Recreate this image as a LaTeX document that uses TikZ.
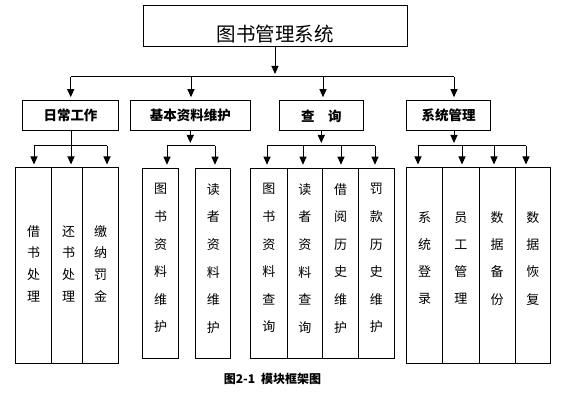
\documentclass[tikz,border=0pt]{standalone}
\usepackage{fontspec}
\setmainfont{Noto Sans CJK SC}
\usetikzlibrary{arrows.meta}

\begin{document}
\begin{tikzpicture}[x=1pt, y=-1pt,
  box/.style={draw, line width=1pt, inner sep=0pt, minimum height=30.3pt, font=\bfseries\fontsize{13.5pt}{16pt}\selectfont},
  cell/.style={draw, line width=1pt, inner sep=0pt},
  celltext/.style={align=center, inner sep=0pt},
  arrow/.style={-{Triangle[length=8pt,width=7pt]}, line width=1pt, shorten >=3pt},
  link/.style={line width=1pt}
]
  \useasboundingbox (0,0) rectangle (574,403);

  % Title
  \node[draw, line width=1pt, inner sep=0pt, minimum width=264pt, minimum height=41pt, text height=30pt, text depth=0pt, font=\fontsize{19.5pt}{20pt}\selectfont] (title) at (275,26.5) {图书管理系统};

  % Modules
  \node[box, minimum width=95.6pt] (daily) at (70.5,115.85) {日常工作};
  \node[box, minimum width=120pt] (basic) at (190.3,115.85) {基本资料维护};
  \node[box, minimum width=84pt] (query) at (321.3,115.85) {查　询};
  \node[box, minimum width=84pt] (sysm) at (448.7,115.85) {系统管理};

  % Daily work
  \node[cell, minimum width=36pt, minimum height=196pt] (borrow) at (33.7,266) {};
  \node[cell, minimum width=31pt, minimum height=196pt] (giveback) at (67.2,266) {};
  \node[cell, minimum width=35.6pt, minimum height=196pt] (fine) at (100.5,266) {};
  \node[celltext, font=\fontsize{13pt}{21.7pt}\selectfont] (borrowtext) at (33.7,263.5) {借\\书\\处\\理};
  \node[celltext, font=\fontsize{13pt}{21.7pt}\selectfont] (givebacktext) at (68.5,263.5) {还\\书\\处\\理};
  \node[celltext, font=\fontsize{13pt}{21.7pt}\selectfont] (finetext) at (100.5,263.5) {缴\\纳\\罚\\金};

  % Basic data
  \node[cell, minimum width=35.6pt, minimum height=190pt] (bookinfo) at (160.5,263.2) {};
  \node[cell, minimum width=35.3pt, minimum height=190pt] (readerinfo) at (213.3,263.2) {};
  \node[celltext, font=\fontsize{13pt}{27.6pt}\selectfont] (bookinfotext) at (160.5,258.3) {图\\书\\资\\料\\维\\护};
  \node[celltext, font=\fontsize{13pt}{27.6pt}\selectfont] (readerinfotext) at (213.3,258.3) {读\\者\\资\\料\\维\\护};

  % Query
  \node[cell, minimum width=36.3pt, minimum height=190pt] (bookq) at (268.85,263.2) {};
  \node[cell, minimum width=35.7pt, minimum height=190pt] (readerq) at (304.85,263.2) {};
  \node[cell, minimum width=35.6pt, minimum height=190pt] (loanq) at (340.5,263.2) {};
  \node[cell, minimum width=36pt, minimum height=190pt] (fineq) at (376.3,263.2) {};
  \node[celltext, font=\fontsize{13pt}{27.6pt}\selectfont] (bookqtext) at (268.85,258.3) {图\\书\\资\\料\\查\\询};
  \node[celltext, font=\fontsize{13pt}{27.6pt}\selectfont] (readerqtext) at (304.85,258.3) {读\\者\\资\\料\\查\\询};
  \node[celltext, font=\fontsize{13pt}{27.6pt}\selectfont] (loanqtext) at (340.5,258.3) {借\\阅\\历\\史\\维\\护};
  \node[celltext, font=\fontsize{13pt}{27.6pt}\selectfont] (fineqtext) at (376.3,258.3) {罚\\款\\历\\史\\维\\护};

  % System management
  \node[cell, minimum width=36pt, minimum height=196pt] (login) at (424.7,266) {};
  \node[cell, minimum width=36.3pt, minimum height=196pt] (staff) at (460.85,266) {};
  \node[cell, minimum width=36pt, minimum height=196pt] (backup) at (497,266) {};
  \node[cell, minimum width=35.7pt, minimum height=196pt] (restore) at (532.85,266) {};
  \node[celltext, font=\fontsize{13pt}{27.2pt}\selectfont] (logintext) at (424.7,258.3) {系\\统\\登\\录};
  \node[celltext, font=\fontsize{13pt}{27.2pt}\selectfont] (stafftext) at (460.85,258.3) {员\\工\\管\\理};
  \node[celltext, font=\fontsize{13pt}{27.2pt}\selectfont] (backuptext) at (497,258.3) {数\\据\\备\\份};
  \node[celltext, font=\fontsize{13pt}{27.2pt}\selectfont] (restoretext) at (532.85,258.3) {数\\据\\恢\\复};

  % Caption
  \node[font=\bfseries\fontsize{12pt}{14pt}\selectfont] (caption) at (272.5,379) {图2-1\hspace{6pt}模块框架图};

  % Bus points
  \coordinate (main) at (275,77);
  \coordinate (m1) at (70.7,77);
  \coordinate (m2) at (191,77);
  \coordinate (m3) at (323,77);
  \coordinate (m4) at (454,77);
  \coordinate (d1) at (34,146);
  \coordinate (d2) at (71,146);
  \coordinate (d3) at (107,146);
  \coordinate (e1) at (167,146);
  \coordinate (e2) at (215,146);
  \coordinate (q1) at (267,146);
  \coordinate (q2) at (303,146);
  \coordinate (q3) at (341,146);
  \coordinate (q4) at (375,146);
  \coordinate (s0) at (454,146);
  \coordinate (s1) at (418,146);
  \coordinate (s2) at (462,146);
  \coordinate (s3) at (494,146);
  \coordinate (s4) at (526,146);

  % Arrows
  \draw[arrow] (title) -- (main);
  \draw[link] (m1) -- (m4);
  \draw[arrow] (m1) -- (m1 |- daily.north);
  \draw[arrow] (m2) -- (m2 |- basic.north);
  \draw[arrow] (m3) -- (m3 |- query.north);
  \draw[arrow] (m4) -- (m4 |- sysm.north);

  \draw[link] (daily.south -| d2) -- (d2);
  \draw[link] (d1) -- (d3);
  \draw[arrow] (d1) -- (d1 |- borrow.north);
  \draw[arrow] (d2) -- (d2 |- giveback.north);
  \draw[arrow] (d3) -- (d3 |- fine.north);

  \draw[arrow] (basic) -- (basic |- e1);
  \draw[link] (e1) -- (e2);
  \draw[arrow] (e1) -- (e1 |- bookinfo.north);
  \draw[arrow] (e2) -- (e2 |- readerinfo.north);

  \draw[arrow] (query) -- (query |- q1);
  \draw[link] (q1) -- (q4);
  \draw[arrow] (q1) -- (q1 |- bookq.north);
  \draw[arrow] (q2) -- (q2 |- readerq.north);
  \draw[arrow] (q3) -- (q3 |- loanq.north);
  \draw[arrow] (q4) -- (q4 |- fineq.north);

  \draw[arrow] (sysm.south -| s0) -- (s0);
  \draw[link] (s1) -- (s4);
  \draw[arrow] (s1) -- (s1 |- login.north);
  \draw[arrow] (s2) -- (s2 |- staff.north);
  \draw[arrow] (s3) -- (s3 |- backup.north);
  \draw[arrow] (s4) -- (s4 |- restore.north);

\end{tikzpicture}
\end{document}
